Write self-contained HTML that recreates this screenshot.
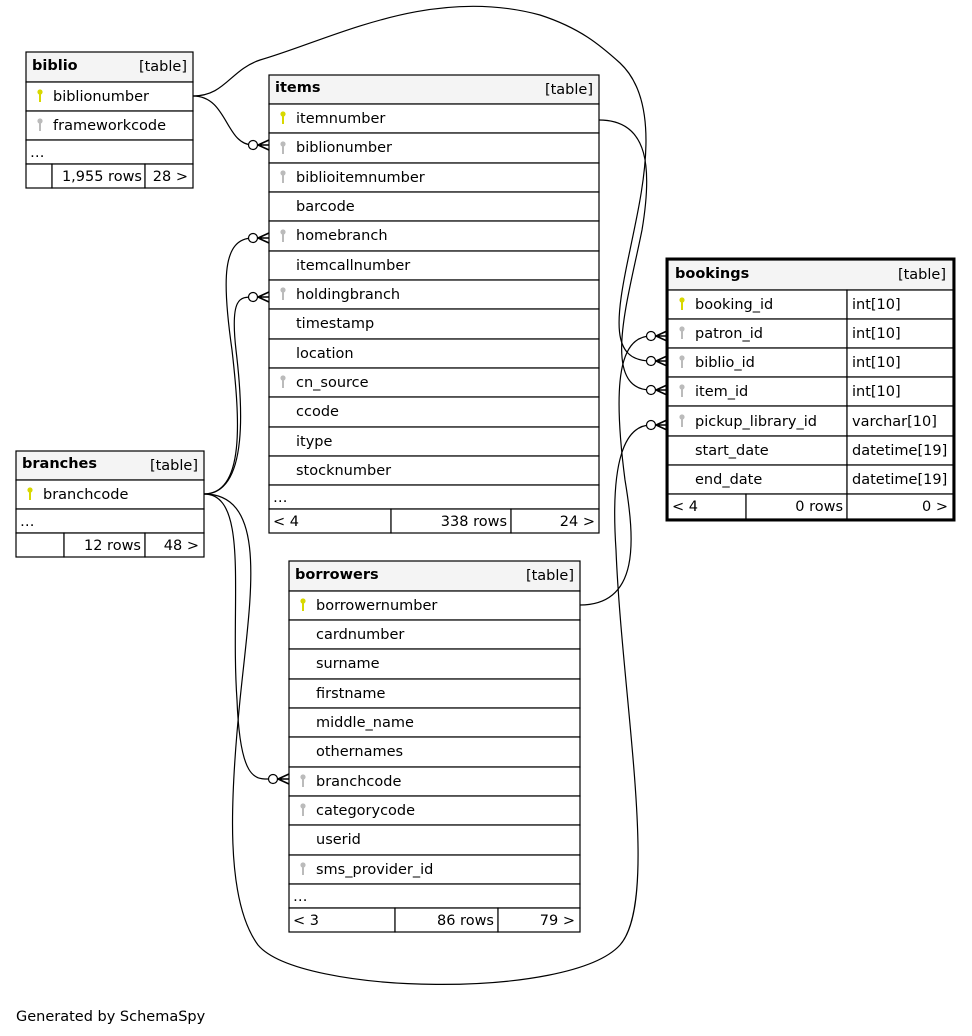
<!DOCTYPE html>
<html><head><meta charset="utf-8"><style>
html,body{margin:0;padding:0;background:#fff;width:972px;height:1036px;overflow:hidden}
svg{display:block}
text{font-family:"DejaVu Sans","Liberation Sans",sans-serif;font-size:14.5px;fill:#000}
.b{font-weight:bold}
.r{fill:#fff;stroke:#000;stroke-width:1.2}
.h{fill:#f4f4f4;stroke:#000;stroke-width:1.2}
.c{fill:none;stroke:#000;stroke-width:1.2}
.o{fill:#fff;stroke:#000;stroke-width:1.2}
</style></head><body>
<svg width="972" height="1036" viewBox="0 0 972 1036" xmlns="http://www.w3.org/2000/svg">
<defs>
<g id="ky"><circle cx="0" cy="-4" r="2.6" fill="#d8d800"/><rect x="-1" y="-3" width="2" height="9" fill="#d8d800"/></g>
<g id="kg"><circle cx="0" cy="-4" r="2.6" fill="#bbb"/><rect x="-1" y="-3" width="2" height="9" fill="#bbb"/></g>
</defs>

<!-- connectors -->
<path class="c" d="M193,96 C228,96 225,145 253,145"/>
<path class="c" d="M193,96 C225,96 230,70 260,60 C330,40 430,-15 540,15 C580,28 600,45 620,63 C665,105 640,200 630,250 C615,320 610,361 651,361"/>
<path class="c" d="M599,120 C650,120 652,170 642,230 C628,300 600,390 651,390"/>
<path class="c" d="M204,494 C245,494 240,420 232,350 C222,280 222,238 253,238"/>
<path class="c" d="M204,494 C250,494 242,400 236,350 C230,297 240,297 253,297"/>
<path class="c" d="M204,494 C250,494 230,600 237,700 C240,779 255,779 268,779"/>
<path class="c" d="M204,494 C270,494 250,600 240,700 C230,800 225,900 258,945 C300,995 570,1000 620,945 C660,900 622,700 616,550 C610,460 625,425 651,425"/>
<path class="c" d="M580,605 C640,605 635,540 625,480 C612,380 620,336 651,336"/>

<!-- biblio -->
<rect class="h" x="26" y="52" width="167" height="30"/>
<text x="32" y="70" class="b">biblio</text><text x="187" y="71" text-anchor="end">[table]</text>
<rect class="r" x="26" y="82" width="167" height="29"/>
<use href="#ky" x="40" y="96"/><text x="53" y="101">biblionumber</text>
<rect class="r" x="26" y="111" width="167" height="29"/>
<use href="#kg" x="40" y="125"/><text x="53" y="130">frameworkcode</text>
<rect class="r" x="26" y="140" width="167" height="24"/><text x="30" y="157">…</text>
<rect class="r" x="26" y="164" width="26" height="24"/><rect class="r" x="52" y="164" width="93" height="24"/><rect class="r" x="145" y="164" width="48" height="24"/>
<text x="142" y="181" text-anchor="end">1,955 rows</text><text x="188" y="181" text-anchor="end">28 &gt;</text>

<!-- items -->
<rect class="h" x="269" y="75" width="330" height="29"/>
<text x="275" y="92" class="b">items</text><text x="593" y="94" text-anchor="end">[table]</text>
<rect class="r" x="269" y="104" width="330" height="29"/><use href="#ky" x="283" y="118"/><text x="296" y="123">itemnumber</text>
<rect class="r" x="269" y="133" width="330" height="30"/><use href="#kg" x="283" y="148"/><text x="296" y="152">biblionumber</text>
<rect class="r" x="269" y="163" width="330" height="29"/><use href="#kg" x="283" y="177"/><text x="296" y="182">biblioitemnumber</text>
<rect class="r" x="269" y="192" width="330" height="29"/><text x="296" y="211">barcode</text>
<rect class="r" x="269" y="221" width="330" height="30"/><use href="#kg" x="283" y="236"/><text x="296" y="240">homebranch</text>
<rect class="r" x="269" y="251" width="330" height="29"/><text x="296" y="270">itemcallnumber</text>
<rect class="r" x="269" y="280" width="330" height="29"/><use href="#kg" x="283" y="294"/><text x="296" y="299">holdingbranch</text>
<rect class="r" x="269" y="309" width="330" height="30"/><text x="296" y="328">timestamp</text>
<rect class="r" x="269" y="339" width="330" height="29"/><text x="296" y="358">location</text>
<rect class="r" x="269" y="368" width="330" height="29"/><use href="#kg" x="283" y="382"/><text x="296" y="387">cn_source</text>
<rect class="r" x="269" y="397" width="330" height="30"/><text x="296" y="416">ccode</text>
<rect class="r" x="269" y="427" width="330" height="29"/><text x="296" y="446">itype</text>
<rect class="r" x="269" y="456" width="330" height="29"/><text x="296" y="475">stocknumber</text>
<rect class="r" x="269" y="485" width="330" height="24"/><text x="273" y="502">…</text>
<rect class="r" x="269" y="509" width="122" height="24"/><rect class="r" x="391" y="509" width="120" height="24"/><rect class="r" x="511" y="509" width="88" height="24"/>
<text x="273" y="526">&lt; 4</text><text x="507" y="526" text-anchor="end">338 rows</text><text x="595" y="526" text-anchor="end">24 &gt;</text>

<!-- branches -->
<rect class="h" x="16" y="451" width="188" height="29"/>
<text x="22" y="468" class="b">branches</text><text x="198" y="470" text-anchor="end">[table]</text>
<rect class="r" x="16" y="480" width="188" height="29"/><use href="#ky" x="30" y="494"/><text x="43" y="499">branchcode</text>
<rect class="r" x="16" y="509" width="188" height="24"/><text x="20" y="526">…</text>
<rect class="r" x="16" y="533" width="48" height="24"/><rect class="r" x="64" y="533" width="81" height="24"/><rect class="r" x="145" y="533" width="59" height="24"/>
<text x="141" y="550" text-anchor="end">12 rows</text><text x="199" y="550" text-anchor="end">48 &gt;</text>

<!-- borrowers -->
<rect class="h" x="289" y="561" width="291" height="30"/>
<text x="295" y="579" class="b">borrowers</text><text x="574" y="580" text-anchor="end">[table]</text>
<rect class="r" x="289" y="591" width="291" height="29"/><use href="#ky" x="303" y="605"/><text x="316" y="610">borrowernumber</text>
<rect class="r" x="289" y="620" width="291" height="29"/><text x="316" y="639">cardnumber</text>
<rect class="r" x="289" y="649" width="291" height="30"/><text x="316" y="668">surname</text>
<rect class="r" x="289" y="679" width="291" height="29"/><text x="316" y="698">firstname</text>
<rect class="r" x="289" y="708" width="291" height="29"/><text x="316" y="727">middle_name</text>
<rect class="r" x="289" y="737" width="291" height="30"/><text x="316" y="756">othernames</text>
<rect class="r" x="289" y="767" width="291" height="29"/><use href="#kg" x="303" y="781"/><text x="316" y="786">branchcode</text>
<rect class="r" x="289" y="796" width="291" height="29"/><use href="#kg" x="303" y="810"/><text x="316" y="815">categorycode</text>
<rect class="r" x="289" y="825" width="291" height="30"/><text x="316" y="844">userid</text>
<rect class="r" x="289" y="855" width="291" height="29"/><use href="#kg" x="303" y="869"/><text x="316" y="874">sms_provider_id</text>
<rect class="r" x="289" y="884" width="291" height="24"/><text x="293" y="901">…</text>
<rect class="r" x="289" y="908" width="106" height="24"/><rect class="r" x="395" y="908" width="103" height="24"/><rect class="r" x="498" y="908" width="82" height="24"/>
<text x="293" y="925">&lt; 3</text><text x="494" y="925" text-anchor="end">86 rows</text><text x="575" y="925" text-anchor="end">79 &gt;</text>

<!-- bookings -->
<rect class="h" x="668" y="260" width="285" height="30"/>
<text x="675" y="278" class="b">bookings</text><text x="946" y="279" text-anchor="end">[table]</text>
<g>
<rect class="r" x="668" y="290" width="179" height="29"/><rect class="r" x="847" y="290" width="106" height="29"/><use href="#ky" x="682" y="304"/><text x="695" y="309">booking_id</text><text x="852" y="309">int[10]</text>
<rect class="r" x="668" y="319" width="179" height="29"/><rect class="r" x="847" y="319" width="106" height="29"/><use href="#kg" x="682" y="333"/><text x="695" y="338">patron_id</text><text x="852" y="338">int[10]</text>
<rect class="r" x="668" y="348" width="179" height="29"/><rect class="r" x="847" y="348" width="106" height="29"/><use href="#kg" x="682" y="362"/><text x="695" y="367">biblio_id</text><text x="852" y="367">int[10]</text>
<rect class="r" x="668" y="377" width="179" height="29"/><rect class="r" x="847" y="377" width="106" height="29"/><use href="#kg" x="682" y="391"/><text x="695" y="396">item_id</text><text x="852" y="396">int[10]</text>
<rect class="r" x="668" y="406" width="179" height="30"/><rect class="r" x="847" y="406" width="106" height="30"/><use href="#kg" x="682" y="421"/><text x="695" y="426">pickup_library_id</text><text x="852" y="426">varchar[10]</text>
<rect class="r" x="668" y="436" width="179" height="29"/><rect class="r" x="847" y="436" width="106" height="29"/><text x="695" y="455">start_date</text><text x="852" y="455">datetime[19]</text>
<rect class="r" x="668" y="465" width="179" height="29"/><rect class="r" x="847" y="465" width="106" height="29"/><text x="695" y="484">end_date</text><text x="852" y="484">datetime[19]</text>
<rect class="r" x="668" y="494" width="78" height="25"/><rect class="r" x="746" y="494" width="101" height="25"/><rect class="r" x="847" y="494" width="106" height="25"/>
<text x="672" y="511">&lt; 4</text><text x="843" y="511" text-anchor="end">0 rows</text><text x="948" y="511" text-anchor="end">0 &gt;</text>
</g>
<rect x="667" y="259" width="287" height="261" fill="none" stroke="#000" stroke-width="3"/>

<!-- crow's feet + circles -->
<g stroke="#000" stroke-width="1.6" fill="none">
<path d="M269,140 L258,145 L269,150 M258,145 L269,145"/>
<path d="M269,233 L258,238 L269,243 M258,238 L269,238"/>
<path d="M269,292 L258,297 L269,302 M258,297 L269,297"/>
<path d="M289,774 L278,779 L289,784 M278,779 L289,779"/>
<path d="M667,331 L656,336 L667,341 M656,336 L667,336"/>
<path d="M667,356 L656,361 L667,366 M656,361 L667,361"/>
<path d="M667,385 L656,390 L667,395 M656,390 L667,390"/>
<path d="M667,420 L656,425 L667,430 M656,425 L667,425"/>
</g>
<circle class="o" cx="253" cy="145" r="4.5"/>
<circle class="o" cx="253" cy="238" r="4.5"/>
<circle class="o" cx="253" cy="297" r="4.5"/>
<circle class="o" cx="273" cy="779" r="4.5"/>
<circle class="o" cx="651" cy="336" r="4.5"/>
<circle class="o" cx="651" cy="361" r="4.5"/>
<circle class="o" cx="651" cy="390" r="4.5"/>
<circle class="o" cx="651" cy="425" r="4.5"/>

<text x="16" y="1021">Generated by SchemaSpy</text>
</svg>
</body></html>
